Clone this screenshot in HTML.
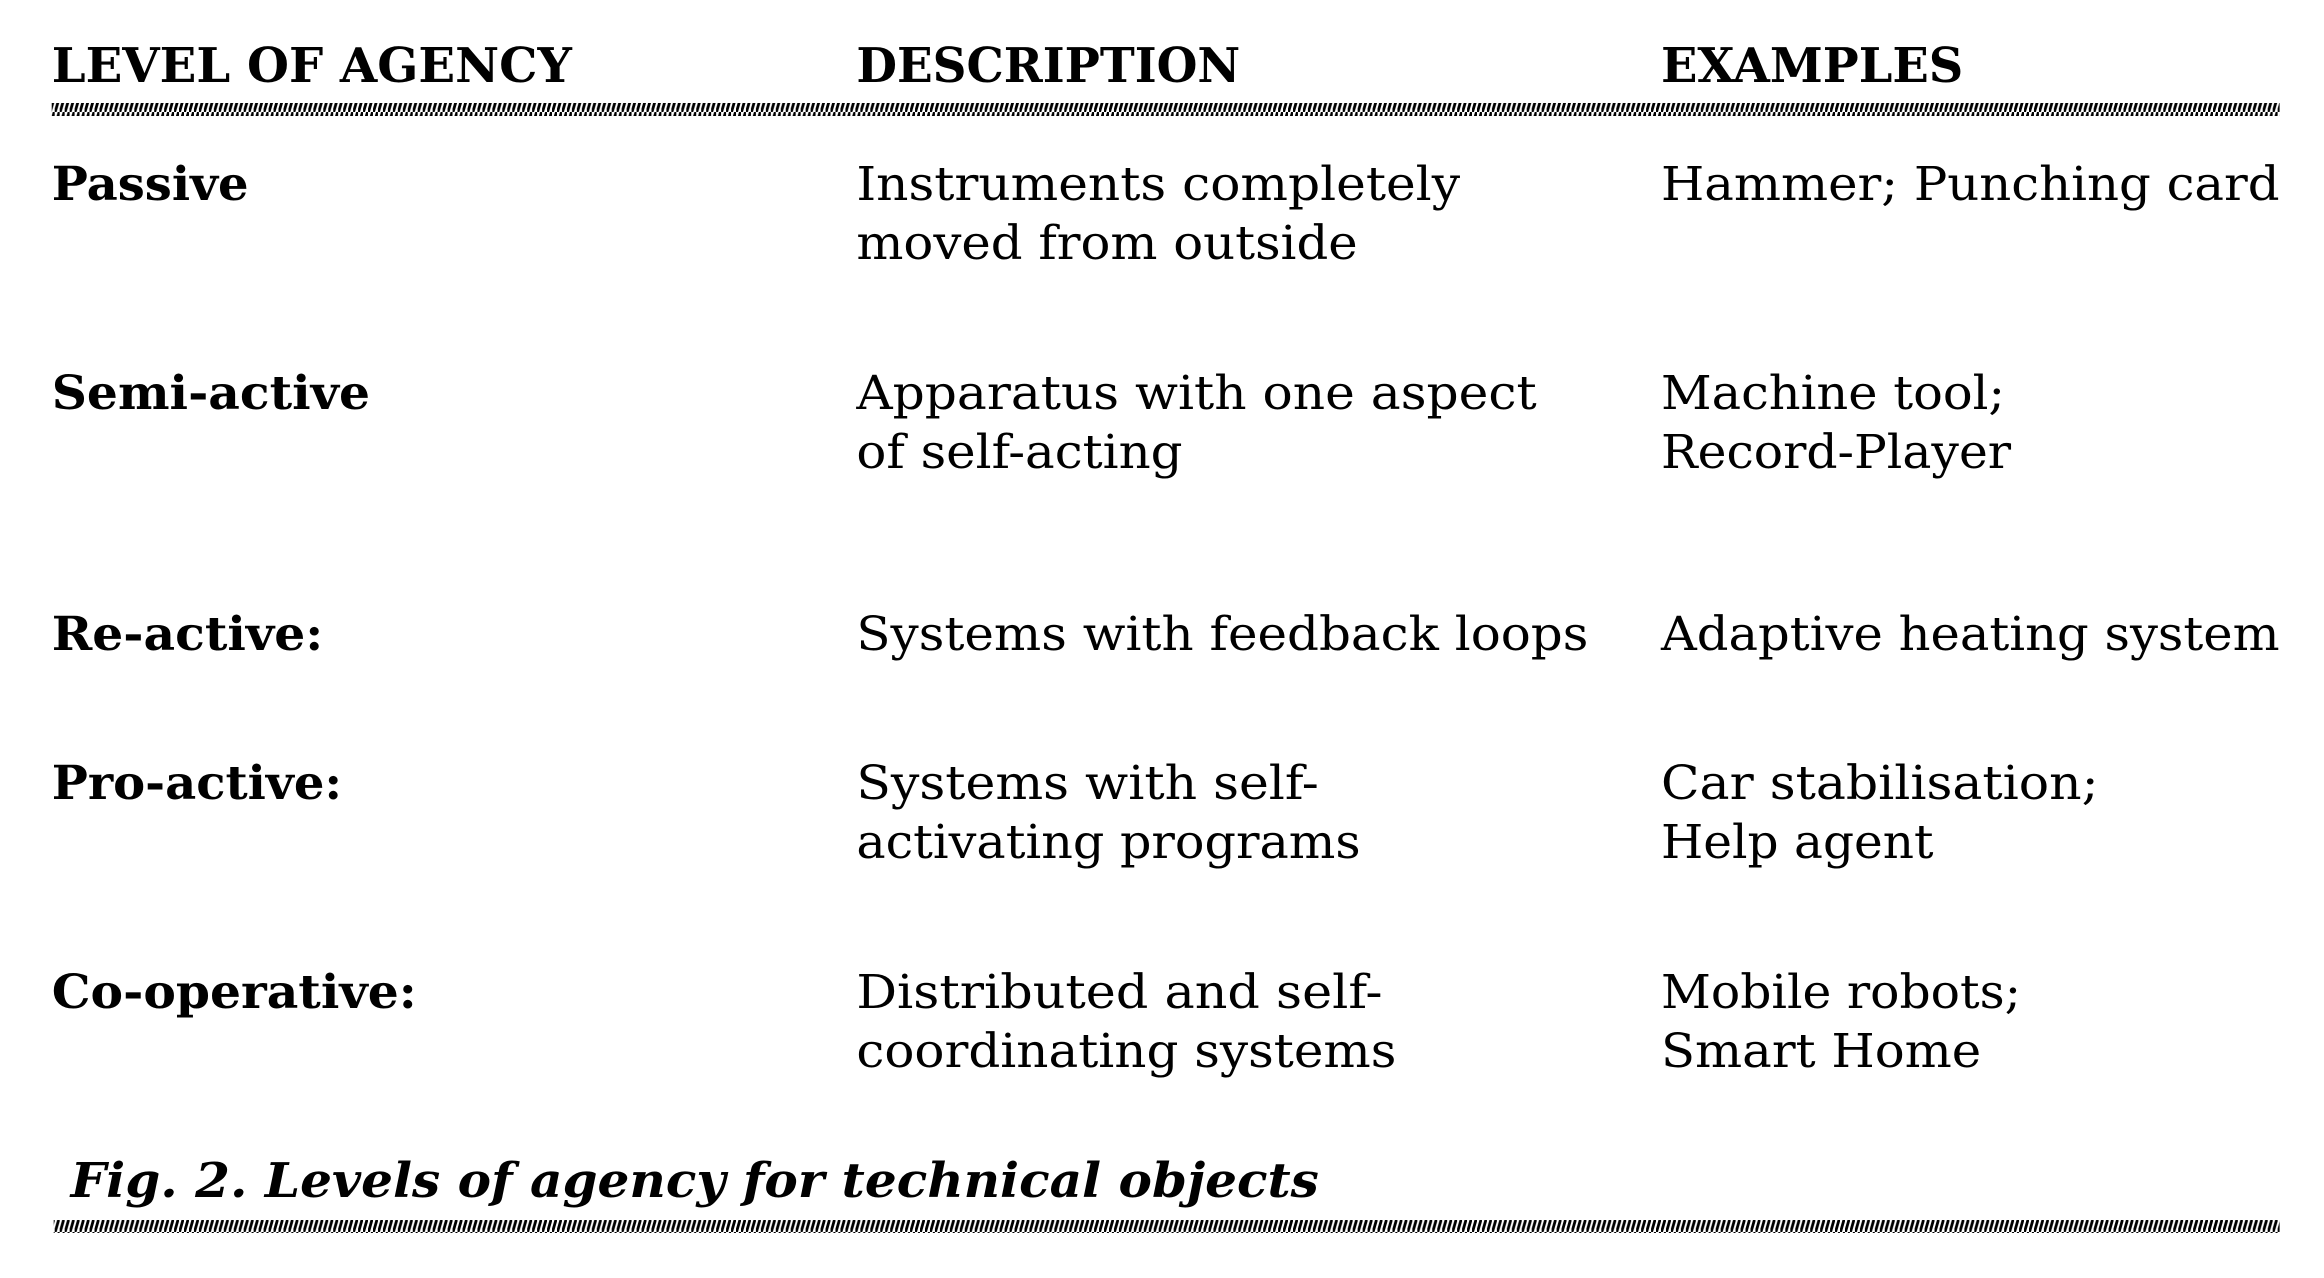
<!DOCTYPE html>
<html><head><meta charset="utf-8"><style>
html,body{margin:0;padding:0;background:#fff;}
svg{display:block;}
text{font-family:"DejaVu Serif","Liberation Serif",serif;fill:#000;}
.b{font-weight:bold;}
.h{font-weight:bold;}
</style></head><body>
<svg width="2324" height="1278" viewBox="0 0 2324 1278" xmlns="http://www.w3.org/2000/svg">
<defs>
<pattern id="hatch" width="5" height="14" patternUnits="userSpaceOnUse">
<line x1="0.5" y1="14" x2="4.5" y2="0" stroke="#000" stroke-width="2.8"/>
</pattern>
</defs>
<g transform="scale(0.9946,1)">
<g font-size="48">
<text class="h" x="52" y="82" textLength="523" lengthAdjust="spacingAndGlyphs">LEVEL OF AGENCY</text>
<text class="h" x="861" y="82" textLength="386" lengthAdjust="spacingAndGlyphs">DESCRIPTION</text>
<text class="h" x="1670" y="82" textLength="304" lengthAdjust="spacingAndGlyphs">EXAMPLES</text>
</g>
<rect x="52" y="103" width="2240" height="13" fill="url(#hatch)"/>
<g font-size="47">
<text class="b" x="52" y="200" textLength="198" lengthAdjust="spacingAndGlyphs">Passive</text>
<text x="861" y="200" textLength="607" lengthAdjust="spacingAndGlyphs">Instruments completely</text>
<text x="861" y="259" textLength="504" lengthAdjust="spacingAndGlyphs">moved from outside</text>
<text x="1670" y="200" textLength="622" lengthAdjust="spacingAndGlyphs">Hammer; Punching card</text>

<text class="b" x="52" y="409" textLength="320" lengthAdjust="spacingAndGlyphs">Semi-active</text>
<text x="861" y="409" textLength="684" lengthAdjust="spacingAndGlyphs">Apparatus with one aspect</text>
<text x="861" y="468" textLength="328" lengthAdjust="spacingAndGlyphs">of self-acting</text>
<text x="1670" y="409" textLength="346" lengthAdjust="spacingAndGlyphs">Machine tool;</text>
<text x="1670" y="468" textLength="352" lengthAdjust="spacingAndGlyphs">Record-Player</text>

<text class="b" x="52" y="650" textLength="273" lengthAdjust="spacingAndGlyphs">Re-active:</text>
<text x="861" y="650" textLength="736" lengthAdjust="spacingAndGlyphs">Systems with feedback loops</text>
<text x="1670" y="650" textLength="622" lengthAdjust="spacingAndGlyphs">Adaptive heating system</text>

<text class="b" x="52" y="799" textLength="292" lengthAdjust="spacingAndGlyphs">Pro-active:</text>
<text x="861" y="799" textLength="465" lengthAdjust="spacingAndGlyphs">Systems with self-</text>
<text x="861" y="858" textLength="507" lengthAdjust="spacingAndGlyphs">activating programs</text>
<text x="1670" y="799" textLength="440" lengthAdjust="spacingAndGlyphs">Car stabilisation;</text>
<text x="1670" y="858" textLength="274" lengthAdjust="spacingAndGlyphs">Help agent</text>

<text class="b" x="52" y="1008" textLength="367" lengthAdjust="spacingAndGlyphs">Co-operative:</text>
<text x="861" y="1008" textLength="529" lengthAdjust="spacingAndGlyphs">Distributed and self-</text>
<text x="861" y="1067" textLength="543" lengthAdjust="spacingAndGlyphs">coordinating systems</text>
<text x="1670" y="1008" textLength="362" lengthAdjust="spacingAndGlyphs">Mobile robots;</text>
<text x="1670" y="1067" textLength="322" lengthAdjust="spacingAndGlyphs">Smart Home</text>
</g>
<text x="71" y="1197" font-size="48" font-weight="bold" font-style="italic" textLength="1255" lengthAdjust="spacingAndGlyphs">Fig. 2. Levels of agency for technical objects</text>
<rect x="54" y="1220" width="2238" height="13" fill="url(#hatch)"/>
</g>
</svg>
</body></html>
